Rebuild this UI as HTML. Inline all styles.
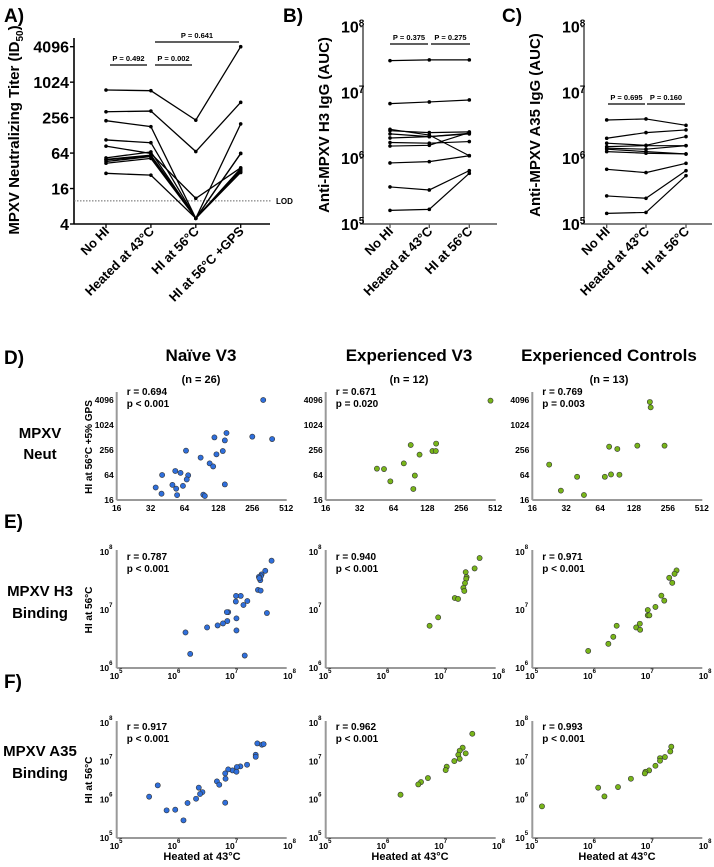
<!DOCTYPE html>
<html><head><meta charset="utf-8"><style>
body{margin:0;background:#fff;}
svg{display:block;font-family:"Liberation Sans",Arial,sans-serif;font-weight:bold;}
</style></head><body>
<svg id="fig" width="714" height="867" viewBox="0 0 714 867" xmlns="http://www.w3.org/2000/svg">
<g id="static">
<text x="4" y="22" font-size="19">A)</text>
<text x="283" y="22" font-size="19">B)</text>
<text x="502" y="22" font-size="19">C)</text>
<text x="4" y="364" font-size="19">D)</text>
<text x="4" y="528" font-size="19">E)</text>
<text x="4" y="688" font-size="19">F)</text>
<text transform="translate(19,130) rotate(-90)" text-anchor="middle" font-size="15">MPXV Neutralizing Titer (ID<tspan font-size="10" dy="4">50</tspan><tspan dy="-4">)</tspan></text>
<text transform="translate(329,125) rotate(-90)" text-anchor="middle" font-size="15">Anti-MPXV H3 IgG (AUC)</text>
<text transform="translate(540,125) rotate(-90)" text-anchor="middle" font-size="15">Anti-MPXV A35 IgG (AUC)</text>
<text x="201" y="361" text-anchor="middle" font-size="17">Naïve V3</text>
<text x="201" y="383" text-anchor="middle" font-size="11">(n = 26)</text>
<text x="409" y="361" text-anchor="middle" font-size="17">Experienced V3</text>
<text x="409" y="383" text-anchor="middle" font-size="11">(n = 12)</text>
<text x="609" y="361" text-anchor="middle" font-size="17">Experienced Controls</text>
<text x="609" y="383" text-anchor="middle" font-size="11">(n = 13)</text>
<text x="40" y="438" text-anchor="middle" font-size="15">MPXV</text>
<text x="40" y="459" text-anchor="middle" font-size="15">Neut</text>
<text x="40" y="596" text-anchor="middle" font-size="15">MPXV H3</text>
<text x="40" y="618" text-anchor="middle" font-size="15">Binding</text>
<text x="40" y="756" text-anchor="middle" font-size="15">MPXV A35</text>
<text x="40" y="778" text-anchor="middle" font-size="15">Binding</text>
<text transform="translate(92,447) rotate(-90)" text-anchor="middle" font-size="10">HI at 56°C +5% GPS</text>
<text transform="translate(92,610) rotate(-90)" text-anchor="middle" font-size="10">HI at 56°C</text>
<text transform="translate(92,780) rotate(-90)" text-anchor="middle" font-size="10">HI at 56°C</text>
<text x="202" y="860" text-anchor="middle" font-size="11">Heated at 43°C</text>
<text x="410" y="860" text-anchor="middle" font-size="11">Heated at 43°C</text>
<text x="617" y="860" text-anchor="middle" font-size="11">Heated at 43°C</text>
</g>
</svg>
<script>
// ---------- Panel A data ----------
const catsA = ["No HI","Heated at 43oC","HI at 56oC","HI at 56oC +GPS"];
const aNoHI   = [754,322,227,107,84,53,50,46,43,29,49];
const aHeat43 = [734,331,180,96,63,67,59,56,52,27,57];
const aHI56   = [232,68,5,5,10.9,5,5,5,5,5,5];
const aGPS    = [4096,465,200,63,36,33,31,30,63,35,35];
const aTicks  = [4,16,64,256,1024,4096];
// ---------- Panel B data ----------
const catsBC = ["No HI","Heated at 43oC","HI at 56oC"];
const bNoHI   = [3.04e7,6.76e6,2.75e6,2.62e6,2.34e6,2.03e6,1.73e6,1.53e6,8.47e5,3.66e5,1.61e5];
const bHeat43 = [3.12e7,7.16e6,2.25e6,2.45e6,2.13e6,2.13e6,1.69e6,1.57e6,8.87e5,3.29e5,1.67e5];
const bHI56   = [3.12e7,7.67e6,1.09e6,2.51e6,2.39e6,2.34e6,1.79e6,2.45e6,1.09e6,6.47e5,5.89e5];
// ---------- Panel C data ----------
const cNoHI   = [3.81e6,2.01e6,1.69e6,1.50e6,1.42e6,1.37e6,1.26e6,6.78e5,2.67e5,1.45e5];
const cHeat43 = [3.95e6,2.45e6,1.57e6,1.55e6,1.37e6,1.26e6,1.19e6,6.04e5,2.46e5,1.50e5];
const cHI56   = [3.16e6,2.69e6,2.13e6,1.55e6,1.55e6,1.16e6,1.16e6,8.36e5,6.47e5,5.43e5];
const logTicks = [5,6,7,8];
// ---------- Scatter data ----------
const dNaiveX = [320,384,256,151,118,146,140,123,66,89,107,115,40.5,53,59,69,67,50,62,54,35.5,40,55,94,97,146];
const dNaiveY = [4096,470,537,657,515,436,242,201,247,168,122,103,64,80,72,63,50,37,35,30,32,22.7,21,21.5,20,38];
const dExpX = [465,91,153,142,152,109,79,45.6,52.7,99,60,96];
const dExpY = [3950,338,365,242,242,198,122,91,89,62,45,29.5];
const dCtlX = [177,180,239,137,77,91,22.6,40,70.5,80,95,28.7,46];
const dCtlY = [3670,2720,326,326,308,271,114,58,58,66,65,26.9,21.1];
const neutTicks = [16,32,64,128,256,512];
const neutYTicks = [16,64,256,1024,4096];
const eNaiveX = [4.78e7,3.72e7,3.21e7,3.13e7,2.89e7,3.05e7,2.93e7,2.78e7,3.09e7,1.16e7,1.40e7,1.15e7,1.82e7,1.56e7,8.5e6,8.05e6,1.18e7,8.2e6,6.9e6,5.57e6,3.66e6,1.18e7,3.97e7,1.55e6,1.87e6,1.64e7];
const eNaiveY = [7.08e7,4.74e7,4.1e7,3.84e7,3.73e7,3.27e7,3.54e7,2.22e7,2.16e7,1.75e7,1.75e7,1.40e7,1.43e7,1.22e7,9.2e6,9.2e6,7.17e6,6.45e6,5.87e6,5.42e6,5.0e6,4.44e6,8.87e6,4.1e6,1.75e6,1.64e6];
const eExpX = [4.6e7,3.77e7,2.64e7,2.74e7,2.7e7,2.57e7,2.41e7,2.5e7,1.71e7,1.95e7,8.83e6,6.27e6];
const eExpY = [7.87e7,5.21e7,4.5e7,3.69e7,3.45e7,2.9e7,2.41e7,2.13e7,1.61e7,1.55e7,7.46e6,5.35e6];
const eCtlX = [3.13e7,2.89e7,2.34e7,2.64e7,1.71e7,1.92e7,1.35e7,9.95e6,9.95e6,1.06e7,7.24e6,6.27e6,7.34e6,2.88e6,2.52e6,2.07e6,9.27e5];
const eCtlY = [4.81e7,4.21e7,3.59e7,2.94e7,1.77e7,1.45e7,1.13e7,1.0e7,8.09e6,8.09e6,5.8e6,5.0e6,4.56e6,5.35e6,3.45e6,2.61e6,1.97e6];
const fNaiveX = [2.71e7,3.26e7,3.48e7,2.54e7,2.54e7,1.80e7,1.38e7,1.20e7,1.01e7,1.18e7,8.5e6,7.64e6,7.54e6,5.42e6,5.95e6,2.63e6,3.04e6,2.77e6,2.36e6,1.68e6,7.54e6,1.03e6,7.3e5,1.43e6,5.13e5,3.64e5];
const fNaiveY = [2.95e7,2.72e7,2.83e7,1.49e7,1.32e7,8.19e6,7.41e6,7.12e6,5.82e6,5.37e6,6.18e6,3.53e6,4.86e6,3.01e6,2.46e6,2.06e6,1.58e6,1.41e6,1.06e6,8.2e5,8.35e5,5.48e5,5.27e5,2.89e5,2.37e6,1.2e6];
const fExpX = [3.44e7,2.34e7,2.08e7,1.97e7,2.64e7,2.08e7,1.68e7,1.24e7,1.19e7,5.87e6,4.46e6,4.0e6,1.97e6];
const fExpY = [5.27e7,2.28e7,1.9e7,1.49e7,1.62e7,1.17e7,1.02e7,7.27e6,5.94e6,3.67e6,2.89e6,2.51e6,1.35e6];
const fCtlX = [2.54e7,2.44e7,1.97e7,1.62e7,1.62e7,1.35e7,1.05e7,9.07e6,8.84e6,5.08e6,3.04e6,1.38e6,1.77e6,1.47e5];
const fCtlY = [2.42e7,1.82e7,1.3e7,1.22e7,1.04e7,7.7e6,5.82e6,5.37e6,4.86e6,3.53e6,2.14e6,2.06e6,1.22e6,6.7e5];
const statsR = ["r = 0.694","r = 0.671","r = 0.769","r = 0.787","r = 0.940","r = 0.971","r = 0.917","r = 0.962","r = 0.993"];
const statsP = ["p < 0.001","p = 0.020","p = 0.003","p < 0.001","p < 0.001","p < 0.001","p < 0.001","p < 0.001","p < 0.001"];

const NS="http://www.w3.org/2000/svg";
const svg=document.getElementById('fig');
function mk(tag,attrs,parent){const e=document.createElementNS(NS,tag);for(const k in attrs)e.setAttribute(k,attrs[k]);(parent||svg).appendChild(e);return e;}
function txt(s,attrs,parent){const e=mk('text',attrs,parent);e.textContent=s;return e;}
function sup(base,exp,attrs){const e=mk('text',attrs);const t1=mk('tspan',{},e);t1.textContent=base;const t2=mk('tspan',{'font-size':attrs.supsize||'9',dy:'-6'},e);t2.textContent=exp;return e;}
function degLabel(s){return s.replace(/oC/g,'°C');}

// ===== Panel A =====
const ayA=v=>224-(Math.log2(v)-2)*17.73;
const axA=i=>106+i*44.9;
let ax=mk('line',{x1:74,y1:38,x2:74,y2:224,stroke:'#000','stroke-width':1.6});

ax=mk('line',{x1:74,y1:224,x2:270,y2:224,stroke:'#000','stroke-width':1.6});

aTicks.forEach(t=>{const y=ayA(t);mk('line',{x1:70,y1:y,x2:74,y2:y,stroke:'#000','stroke-width':1.4});
 const l=txt(String(t),{x:69,y:y+6,'text-anchor':'end','font-size':16});
 
 });
let lod=mk('line',{x1:74,y1:ayA(9.9),x2:272,y2:ayA(9.9),stroke:'#666','stroke-width':1,'stroke-dasharray':'1.5,1.5'});

let lt=txt('LOD',{x:276,y:ayA(9.9)+3,'font-size':8});

const aSeries=[aNoHI,aHeat43,aHI56,aGPS];
aNoHI.forEach((_,k)=>{const pts=aSeries.map((s,i)=>axA(i)+','+ayA(s[k])).join(' ');
 const pl=mk('polyline',{points:pts,fill:'none',stroke:'#000','stroke-width':1.3});
 
 
 aSeries.forEach((s,i)=>{const c=mk('circle',{cx:axA(i),cy:ayA(s[k]),r:1.8,fill:'#000'});
  
  });});
catsA.forEach((c,i)=>{const x=axA(i)+4;const t=txt(degLabel(c),{transform:`translate(${x},232) rotate(-45)`,'text-anchor':'end','font-size':13});
 
 
 mk('line',{x1:axA(i),y1:224,x2:axA(i),y2:228,stroke:'#000','stroke-width':1.3});});
function sigBar(x1,x2,y,label,name){const g=mk('g',{});
 mk('line',{x1:x1,y1:y,x2:x2,y2:y,stroke:'#000','stroke-width':1.3},g);
 txt(label,{x:(x1+x2)/2,y:y-4,'text-anchor':'middle','font-size':7.5},g);}
sigBar(110,147,65,'P = 0.492','a-sig-bar-1');
sigBar(155,192,65,'P = 0.002','a-sig-bar-2');
sigBar(155,239,42,'P = 0.641','a-sig-bar-3');

// ===== Panels B & C =====
const yBC=v=>224-(Math.log10(v)-5)*65.8;
function bcPanel(x0,x1,cx,series,pname){
 let a=mk('line',{x1:x0,y1:26,x2:x0,y2:224,stroke:'#555','stroke-width':1.6});
 
 a=mk('line',{x1:x0,y1:224,x2:x1,y2:224,stroke:'#555','stroke-width':1.6});
 
 logTicks.forEach(e=>{const y=224-(e-5)*65.8;mk('line',{x1:x0-3,y1:y,x2:x0,y2:y,stroke:'#555','stroke-width':1.3});
  const l=sup('10',String(e),{x:x0-22,y:y+6,'font-size':16,'text-anchor':'start',supsize:10});
  
  });
 series[0].forEach((_,k)=>{const pts=series.map((s,i)=>cx[i]+','+yBC(s[k])).join(' ');
  const pl=mk('polyline',{points:pts,fill:'none',stroke:'#000','stroke-width':1.2});
  
  
  series.forEach((s,i)=>{const c=mk('circle',{cx:cx[i],cy:yBC(s[k]),r:1.8,fill:'#000'});
   
   });});
 catsBC.forEach((c,i)=>{const t=txt(degLabel(c),{transform:`translate(${cx[i]+4},232) rotate(-45)`,'text-anchor':'end','font-size':13});
  
  
  mk('line',{x1:cx[i],y1:224,x2:cx[i],y2:228,stroke:'#555','stroke-width':1.3});});
}
bcPanel(363,497,[390,429.3,469.3],[bNoHI,bHeat43,bHI56],'b');
sigBar(390,428,44,'P = 0.375','b-sig-bar-1');
sigBar(431,470,44,'P = 0.275','b-sig-bar-2');
bcPanel(584,712,[606.7,646,686],[cNoHI,cHeat43,cHI56],'c');
sigBar(608,645,104,'P = 0.695','c-sig-bar-1');
sigBar(647,685,104,'P = 0.160','c-sig-bar-2');

// ===== Scatter panels =====
const colX=[116.7,325.7,532.3];
const W=170;
function scatter(ci,row,xs,ys,color,idx){
 const x0=colX[ci];
 let xf,yf,yTop,yBot,xt,yt,rY;
 if(row==='d'){yBot=500;yTop=392;xf=v=>x0+(Math.log2(v)-4)*33.9;yf=v=>500-(Math.log2(v)-4)*12.5;xt=neutTicks;yt=neutYTicks;rY=391;}
 else if(row==='e'){yBot=668;yTop=550;xf=v=>x0+(Math.log10(v)-5)*57.8;yf=v=>668-(Math.log10(v)-6)*58;xt=[5,6,7,8];yt=[6,7,8];rY=556;}
 else {yBot=838;yTop=721;xf=v=>x0+(Math.log10(v)-5)*57.8;yf=v=>838-(Math.log10(v)-5)*38.3;xt=[5,6,7,8];yt=[5,6,7,8];rY=726;}
 let a=mk('line',{x1:x0,y1:yTop,x2:x0,y2:yBot,stroke:'#999','stroke-width':2});
 
 a=mk('line',{x1:x0,y1:yBot,x2:x0+W,y2:yBot,stroke:'#999','stroke-width':2});
 
 xt.forEach(t=>{const x=row==='d'?xf(t):x0+(t-5)*57.8;let l;
  if(row==='d') l=txt(String(t),{x:x,y:yBot+11,'text-anchor':'middle','font-size':8.5});
  else l=sup('10',String(t),{x:x-7,y:yBot+11,'font-size':8.5,supsize:6});
  
  });
 yt.forEach(t=>{let y,l;
  if(row==='d'){y=yf(t);l=txt(String(t),{x:x0-3,y:y+3,'text-anchor':'end','font-size':8.5});}
  else {y=row==='e'?668-(t-6)*58:838-(t-5)*38.3;l=sup('10',String(t),{x:x0-17,y:y+3,'font-size':8.5,supsize:6});}
  
  });
 const r=txt(statsR[idx],{x:x0+10,y:rY+4,'font-size':10});
 
 
 const p=txt(statsP[idx],{x:x0+10,y:rY+16,'font-size':10});
 
 
 xs.forEach((v,k)=>{const c=mk('circle',{cx:xf(v),cy:yf(ys[k]),r:2.6,fill:color,stroke:'#333','stroke-width':0.6});
  
  });
}
const blue='#2f6fdc',green='#78b51a';
scatter(0,'d',dNaiveX,dNaiveY,blue,0);
scatter(1,'d',dExpX,dExpY,green,1);
scatter(2,'d',dCtlX,dCtlY,green,2);
scatter(0,'e',eNaiveX,eNaiveY,blue,3);
scatter(1,'e',eExpX,eExpY,green,4);
scatter(2,'e',eCtlX,eCtlY,green,5);
scatter(0,'f',fNaiveX,fNaiveY,blue,6);
scatter(1,'f',fExpX,fExpY,green,7);
scatter(2,'f',fCtlX,fCtlY,green,8);
</script>
</body></html>
